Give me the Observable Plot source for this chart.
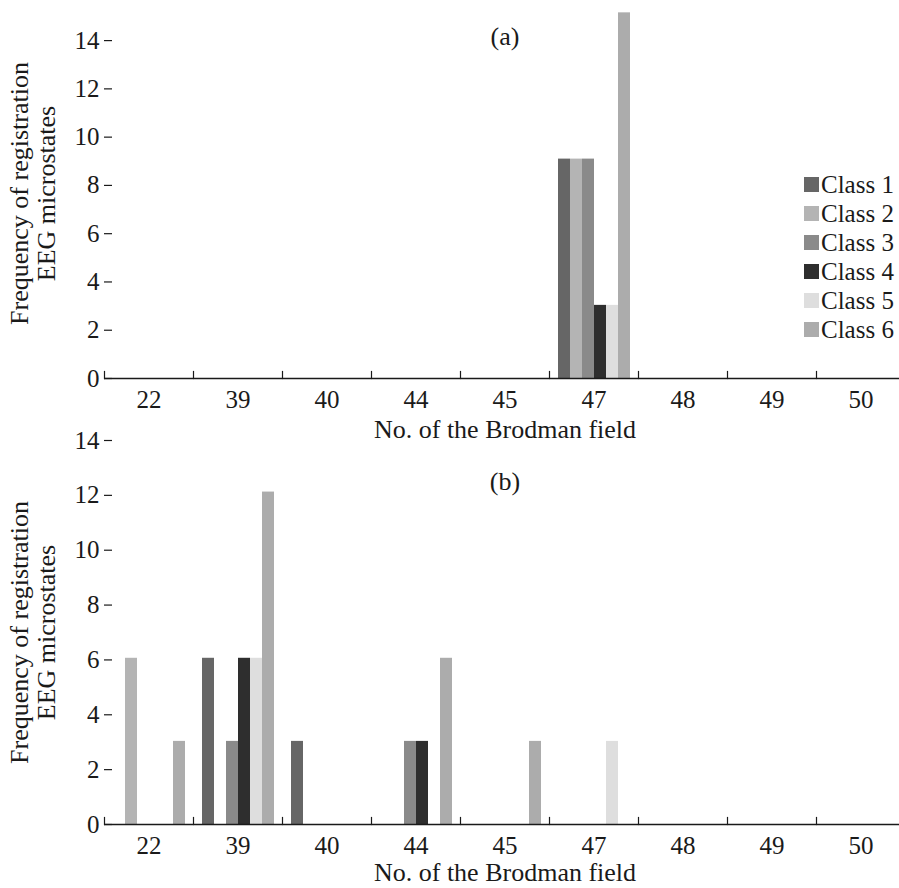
<!DOCTYPE html>
<html>
<head>
<meta charset="utf-8">
<script src="https://cdn.jsdelivr.net/npm/d3@7"></script>
<script src="https://cdn.jsdelivr.net/npm/@observablehq/plot@0.6"></script>
<style>
  body { margin: 0; background: #fff; }
  #wrap { position: relative; width: 899px; height: 888px; overflow: hidden;
          font-family: "Liberation Serif", "Times New Roman", serif; color: #1a1a1a; }
  #wrap svg { position: absolute; left: 0; overflow: visible; }
  #legend { position: absolute; left: 804px; top: 170px; font-size: 25px; }
  #legend .row { display: flex; align-items: center; height: 29px; white-space: nowrap; }
  #legend .sw { width: 15px; height: 15px; margin-right: 2px; flex: none; }
</style>
</head>
<body>
<div id="wrap"></div>
<script>
// Categories (Brodmann field numbers) and classes
const fields = ["22", "39", "40", "44", "45", "47", "48", "49", "50"];
const classes = ["Class 1", "Class 2", "Class 3", "Class 4", "Class 5", "Class 6"];
const classColors = ["#666666", "#b4b4b4", "#8a8a8a", "#2e2e2e", "#dedede", "#acacac"];
const yTicks = [0, 2, 4, 6, 8, 10, 12, 14];

// Panel (a) values, aligned with fields
const a1 = [0, 0, 0, 0, 0, 9.09, 0, 0, 0];
const a2 = [0, 0, 0, 0, 0, 9.09, 0, 0, 0];
const a3 = [0, 0, 0, 0, 0, 9.09, 0, 0, 0];
const a4 = [0, 0, 0, 0, 0, 3.03, 0, 0, 0];
const a5 = [0, 0, 0, 0, 0, 3.03, 0, 0, 0];
const a6 = [0, 0, 0, 0, 0, 15.15, 0, 0, 0];

// Panel (b) values, aligned with fields
const b1 = [0, 6.06, 3.03, 0, 0, 0, 0, 0, 0];
const b2 = [6.06, 0, 0, 0, 0, 0, 0, 0, 0];
const b3 = [0, 3.03, 0, 3.03, 0, 0, 0, 0, 0];
const b4 = [0, 6.06, 0, 3.03, 0, 0, 0, 0, 0];
const b5 = [0, 6.06, 0, 0, 0, 3.03, 0, 0, 0];
const b6 = [3.03, 12.12, 0, 6.06, 3.03, 0, 0, 0, 0];

const yTitle = "Frequency of registration\nEEG microstates";
const xTitle = "No. of the Brodman field";

function rows(series) {
  const out = [];
  series.forEach((vals, ci) => vals.forEach((v, fi) => out.push({field: fields[fi], cls: classes[ci], value: v})));
  return out;
}

function panel({data, height, marginTop, marginBottom, yMax, tag, tagDy, titleDy}) {
  const innerH = height - marginTop - marginBottom;
  const facetW = (899 + 6 - 104) / fields.length;
  return Plot.plot({
    width: 899, height, marginTop, marginBottom, marginLeft: 104, marginRight: -6,
    style: {fontFamily: "'Liberation Serif', 'Times New Roman', serif", fontSize: "25px", color: "#1a1a1a", overflow: "visible", background: "transparent"},
    fx: {domain: fields, padding: 0},
    x: {domain: classes, paddingInner: 0, paddingOuter: 0.708, axis: null},
    y: {domain: [0, yMax], axis: null},
    color: {domain: classes, range: classColors},
    marks: [
      Plot.barY(data, {fx: "field", x: "cls", y: "value", fill: "cls"}),
      Plot.ruleY([0], {strokeWidth: 1.4}),
      Plot.frame({anchor: "left", insetTop: innerH - 7, strokeWidth: 1.2}),
      Plot.tickY(yTicks, {y: d => d, fx: () => fields[0], insetRight: facetW - 8, strokeWidth: 1.2}),
      Plot.axisY({ticks: yTicks, tickSize: 0, tickPadding: 5, label: null, line: true, strokeWidth: 1.3, fontSize: 25}),
      Plot.axisFx({anchor: "bottom", tickSize: 0, tickPadding: 12, label: null, fontSize: 25}),
      Plot.text([{field: fields[0], t: yTitle}], {fx: "field", text: "t", frameAnchor: "left", rotate: -90, dx: -96, lineAnchor: "top", lineHeight: 1.04, textAnchor: "middle", fontSize: 26}),
      Plot.text([{field: fields[4], t: xTitle}], {fx: "field", text: "t", frameAnchor: "bottom", dy: titleDy, lineAnchor: "bottom", textAnchor: "middle", fontSize: 26}),
      Plot.text([{field: fields[4], t: tag}], {fx: "field", text: "t", frameAnchor: "top", dy: tagDy, lineAnchor: "middle", textAnchor: "middle", fontSize: 26})
    ]
  });
}

const wrap = document.getElementById("wrap");

const pa = panel({data: rows([a1, a2, a3, a4, a5, a6]), height: 440, marginTop: 8, marginBottom: 62, yMax: 15.33, tag: "(a)", tagDy: 28, titleDy: 59});
pa.style.top = "0px";
wrap.appendChild(pa);

const pb = panel({data: rows([b1, b2, b3, b4, b5, b6]), height: 448, marginTop: 0, marginBottom: 64, yMax: 14, tag: "(b)", tagDy: 41, titleDy: 56});
pb.style.top = "440px";
wrap.appendChild(pb);

// Legend
const legend = document.createElement("div");
legend.id = "legend";
classes.forEach((c, i) => {
  const row = document.createElement("div");
  row.className = "row";
  const sw = document.createElement("span");
  sw.className = "sw";
  sw.style.background = classColors[i];
  const t = document.createElement("span");
  t.textContent = c;
  row.appendChild(sw);
  row.appendChild(t);
  legend.appendChild(row);
});
wrap.appendChild(legend);
</script>
</body>
</html>
